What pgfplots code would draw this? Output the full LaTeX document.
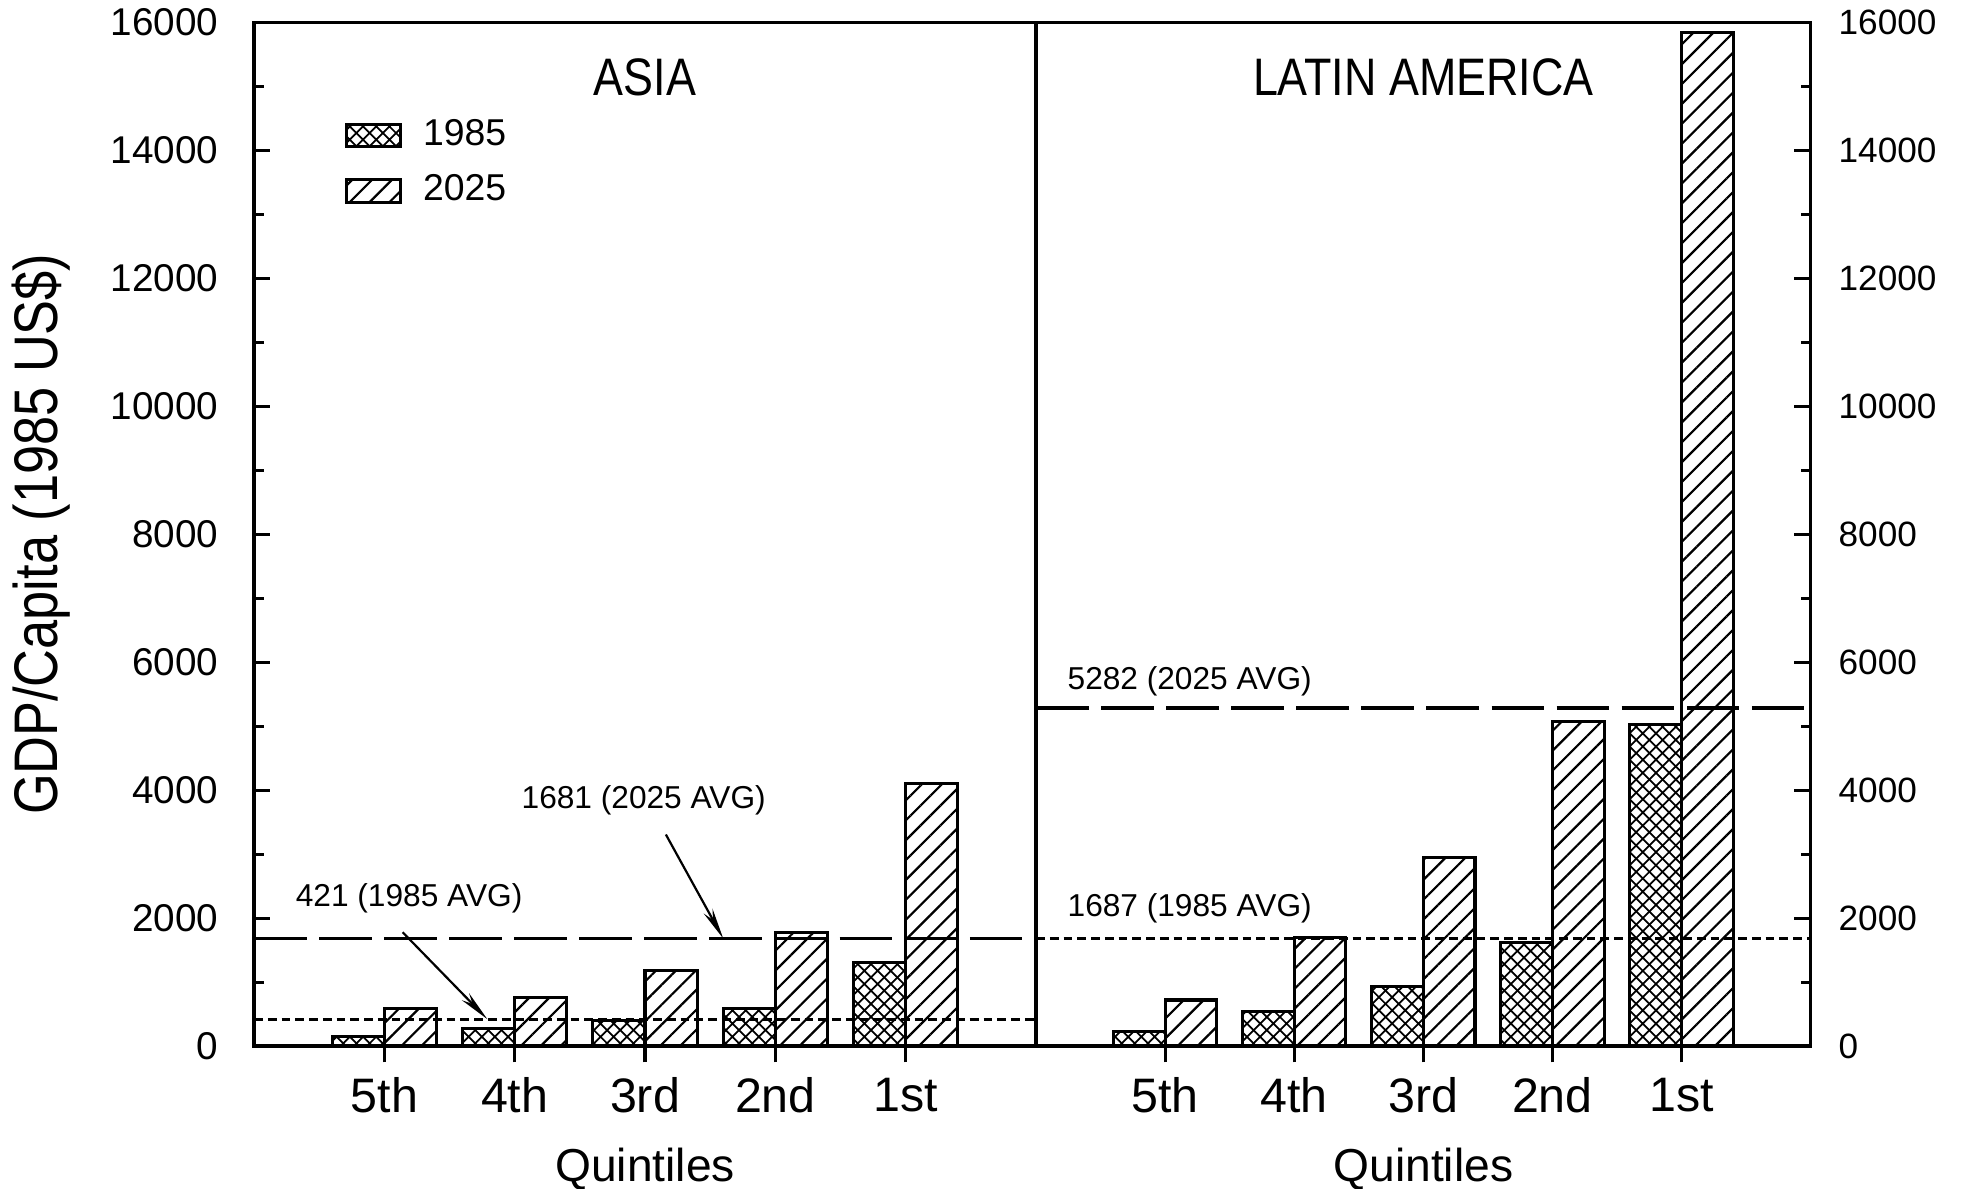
\documentclass[border=0pt]{standalone}
\usepackage{fontspec}
\setmainfont{Liberation Sans}
\newfontfamily\condfont[FakeStretch=0.85]{Liberation Sans}
\usepackage{pgfplots}
\pgfplotsset{compat=1.18}
\usetikzlibrary{patterns,patterns.meta,arrows.meta}

\pgfplotsset{
  gdp/.style={
    scale only axis, height=8.18cm,
    xmin=0, xmax=6, ymin=0, ymax=16000,
    xtick={1,2,3,4,5}, xticklabels={5th,4th,3rd,2nd,1st},
    xtick pos=bottom, xtick align=outside,
    ytick={0,2000,...,16000}, minor ytick={1000,3000,...,15000},
    ytick align=inside,
    major tick length=0.13cm, minor tick length=0.08cm,
    axis line style={line width=0.8pt},
    every tick/.style={line width=0.7pt, black},
    scaled y ticks=false,
    /pgf/number format/assume math mode=true,
    yticklabel style={/pgf/number format/fixed, /pgf/number format/1000 sep={}},
    xticklabel style={font=\fontsize{11}{13}\selectfont},
    every axis x label/.style={at={(axis description cs:0.5,0)}, anchor=north, yshift=-0.69cm, font=\fontsize{10.5}{12}\selectfont},
    xlabel={Quintiles},
  },
  b85/.style={ybar, bar width=0.4, bar shift=0pt, draw=black, line width=0.7pt, pattern=crosshatch},
  b25/.style={ybar, bar width=0.4, bar shift=0pt, draw=black, line width=0.7pt, pattern={Lines[angle=45,distance=3.2pt,line width=0.5pt]}},
  avg25/.style={black, line width=0.8pt, dash pattern=on 0.42cm off 0.1cm, forget plot},
  avg85/.style={black, line width=0.7pt, dash pattern=on 0.07cm off 0.04cm, forget plot},
}
\newcommand\annfont{\fontsize{7.2}{8.5}\selectfont}

\begin{document}
\begin{tikzpicture}
\path[use as bounding box] (-2.03cm,-1.14cm) rectangle (13.65cm,8.36cm);

% ---------------- ASIA ----------------
\begin{axis}[gdp, width=6.25cm, at={(0cm,0cm)}, anchor=south west,
  ytick pos=left,
  yticklabel style={font=\fontsize{8.8}{10}\selectfont, xshift=-0.16cm},
  ylabel={GDP/Capita (1985 US\$)},
  every axis y label/.style={at={(axis description cs:0,0.5)}, rotate=90, anchor=center, yshift=1.7cm, font=\condfont\fontsize{14}{16}\selectfont},
  legend style={at={(0.115,0.915)}, anchor=north west, draw=none, fill=none, inner sep=0pt,
    font=\fontsize{8.5}{10}\selectfont, row sep=0.04cm, column sep=0.1cm, cells={anchor=west}},
  legend image code/.code={\draw[#1] (0cm,-0.09cm) rectangle (0.43cm,0.09cm);},
]
\addplot[b85] coordinates {(0.8,150) (1.8,270) (2.8,400) (3.8,590) (4.8,1300)};
\addlegendentry{1985}
\addplot[b25] coordinates {(1.2,590) (2.2,765) (3.2,1180) (4.2,1770) (5.2,4110)};
\addlegendentry{2025}
\addplot[avg25] coordinates {(0,1681) (6,1681)};
\addplot[avg85] coordinates {(0,421) (6,421)};
\node[font=\condfont\fontsize{12}{14}\selectfont] at (axis cs:3,15147) {ASIA};
\node[font=\annfont] at (axis cs:2.99,3835) {1681 (2025 AVG)};
\node[font=\annfont] at (axis cs:1.19,2309) {421 (1985 AVG)};
\draw[-{Stealth[length=0.25cm,width=0.08cm]}, line width=0.5pt] (axis cs:3.16,3307) -- (axis cs:3.60,1681);
\draw[-{Stealth[length=0.25cm,width=0.08cm]}, line width=0.5pt] (axis cs:1.14,1780) -- (axis cs:1.79,421);
\end{axis}

% ---------------- LATIN AMERICA ----------------
\begin{axis}[gdp, width=6.19cm, at={(6.25cm,0cm)}, anchor=south west,
  ytick pos=right, yticklabel pos=right,
  yticklabel style={font=\fontsize{8}{10}\selectfont, xshift=0.1cm},
]
\addplot[b85] coordinates {(0.8,230) (1.8,540) (2.8,930) (3.8,1620) (4.8,5030)};
\addplot[b25] coordinates {(1.2,720) (2.2,1700) (3.2,2950) (4.2,5080) (5.2,15850)};
\addplot[avg25] coordinates {(0,5282) (6,5282)};
\addplot[avg85] coordinates {(0,1687) (6,1687)};
\node[font=\condfont\fontsize{12}{14}\selectfont] at (axis cs:3,15147) {LATIN AMERICA};
\node[font=\annfont] at (axis cs:1.19,5695) {5282 (2025 AVG)};
\node[font=\annfont] at (axis cs:1.19,2153) {1687 (1985 AVG)};
\end{axis}
\end{tikzpicture}
\end{document}
